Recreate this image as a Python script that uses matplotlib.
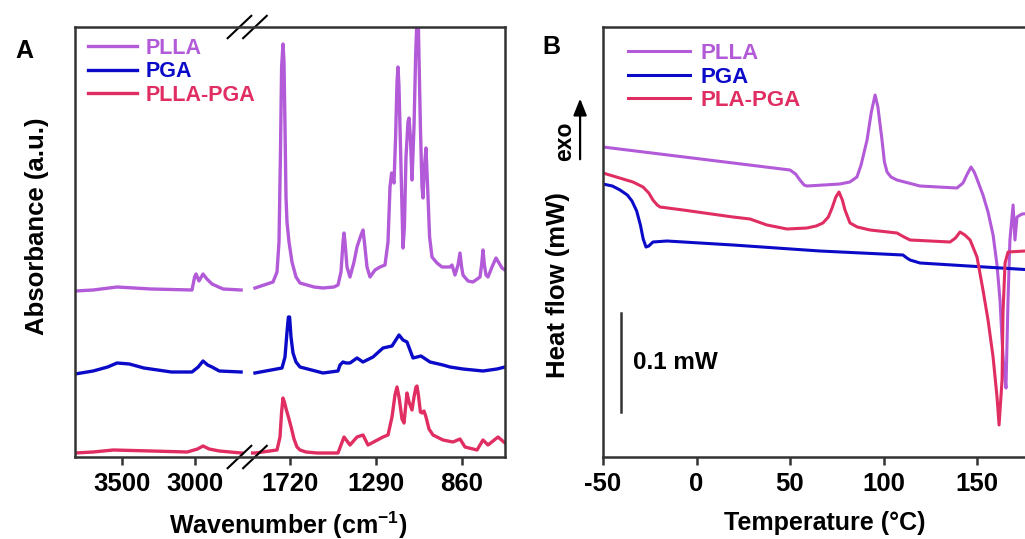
import numpy as np
import matplotlib
matplotlib.use("Agg")
import matplotlib.pyplot as plt

plt.rcParams["font.family"] = ["Liberation Sans", "DejaVu Sans"]
plt.rcParams["font.weight"] = "bold"
plt.rcParams["axes.labelweight"] = "bold"
plt.rcParams["axes.unicode_minus"] = False
plt.rcParams["mathtext.fontset"] = "custom"
plt.rcParams["mathtext.bf"] = "Liberation Sans:bold"
plt.rcParams["mathtext.rm"] = "Liberation Sans:bold"

PURPLE = "#b25ad8"
BLUE = "#0a0ac8"
RED = "#e02d62"

# ---------------- Panel A: FTIR (absorbance, arbitrary offset units) ----------------
PLLA_IR_WN = [3825, 3700, 3535, 3300, 3018, 3000, 2990, 2970, 2942, 2915, 2880, 2804, 2673,
              np.nan,
              1895, 1805, 1785, 1775, 1768, 1762, 1755, 1750, 1745, 1740, 1735, 1725, 1710,
              1690, 1670, 1600, 1555, 1500, 1480, 1465, 1455, 1450, 1445, 1435, 1420, 1400,
              1385, 1365, 1355, 1348, 1335, 1320, 1295, 1270, 1245, 1230, 1220, 1212, 1205,
              1200, 1192, 1185, 1180, 1175, 1165, 1155, 1148, 1140, 1130, 1125, 1118, 1110,
              1100, 1092, 1085, 1078, 1068, 1060, 1055, 1048, 1040, 1032, 1022, 1010, 985,
              960, 920, 910, 895, 880, 870, 862, 855, 830, 805, 770, 762, 755, 748, 740,
              730, 710, 690, 675, 660, 645]
PLLA_IR_ABS = [166, 167, 170, 168, 167, 180, 183, 176, 183, 178, 173, 168, 167,
               np.nan,
               169, 175, 185, 215, 300, 390, 413, 395, 330, 260, 235, 215, 195,
               180, 174, 170, 169, 170, 172, 185, 215, 224, 215, 190, 180, 195,
               210, 222, 227, 215, 190, 180, 187, 190, 192, 215, 270, 284, 278,
               274, 320, 375, 390, 370, 290, 209, 230, 300, 335, 339, 320, 277,
               330, 400, 440, 430, 330, 270, 259, 290, 309, 270, 220, 200, 194,
               190, 190, 192, 182, 192, 204, 190, 182, 176, 175, 180, 192, 207, 192, 182,
               180, 190, 199, 194, 189, 187]

PGA_IR_WN = [3825, 3700, 3600, 3535, 3450, 3350, 3160, 3018, 2975, 2942, 2910, 2880, 2830,
             2673,
             np.nan,
             1895, 1760, 1745, 1735, 1728, 1722, 1715, 1705, 1690, 1670, 1555, 1480,
             1470, 1455, 1440, 1420, 1385, 1355, 1305, 1255, 1210, 1175, 1155, 1135,
             1105, 1065, 1020, 955, 920, 855, 755, 685, 645]
PGA_IR_ABS = [83, 86, 90, 94, 93, 89, 85, 85, 90, 96, 92, 90, 86,
              85,
              np.nan,
              84, 89, 100, 125, 140, 140, 120, 104, 95, 90, 84, 86,
              92, 95, 94, 94, 99, 95, 100, 109, 111, 122, 117, 115,
              99, 101, 95, 92, 90, 88, 86, 88, 90]

BLEND_IR_WN = [3825, 3700, 3560, 3300, 3050, 2980, 2942, 2900, 2830, 2673, 2620,
               np.nan,
               1930, 1895, 1785, 1770, 1762, 1755, 1748, 1738, 1725, 1712, 1700, 1685,
               1670, 1640, 1585, 1480, 1465, 1450, 1420, 1385, 1355, 1330, 1255, 1230,
               1210, 1195, 1185, 1175, 1160, 1150, 1142, 1135, 1125, 1110, 1100, 1090,
               1085, 1078, 1068, 1060, 1050, 1040, 1025, 1005, 955, 905, 870, 845, 785,
               755, 730, 680, 645]
BLEND_IR_ABS = [4, 5, 7, 6, 5, 8, 11, 8, 6, 4, 4,
                np.nan,
                4, 4, 7, 20, 45, 59, 55, 47, 38, 28, 18, 10,
                7, 5, 4, 4, 12, 20, 12, 20, 22, 12, 20, 22,
                40, 62, 70, 60, 38, 34, 50, 64, 55, 47, 60, 70,
                71, 62, 45, 44, 46, 40, 28, 22, 17, 15, 18, 10, 7,
                17, 12, 20, 14]

IR_TICKS = [3500, 3000, 1720, 1290, 860]

# ---------------- Panel B: DSC (heat flow, units of 0.001 mW, offset) ----------------
PLLA_T = [-50, 50, 53, 55.3, 57.5, 59.1, 68, 76.7, 82, 85.8, 88, 91.2, 93.5, 95.5, 97,
          99.2, 100.5, 101.9, 104, 107.2, 119.5, 139.3, 142.5, 144.8, 146.8, 148.5,
          150, 153.2, 155.9, 158.6, 160.7, 162.3, 163.4, 164.4, 165.5, 166.6, 167.6,
          169.3, 170.3, 171.4, 174.1, 180]
PLLA_HF = [310, 287, 283, 277, 272, 271, 272, 273, 275, 280, 292, 317, 345, 362, 350,
           317, 295, 285, 280, 277, 271, 269, 274, 283, 290, 285,
           278, 262, 245, 222, 192, 157, 117, 87, 69, 157, 217,
           252, 217, 240, 243, 244]

PGA_T = [-50, -45, -40.9, -37, -34.5, -32, -30, -28.5, -27, -25.5, -23.3, -15.8, 19.5,
         66, 110.4, 112.5, 114.2, 119.5, 180]
PGA_HF = [273, 271, 267, 262, 256, 246, 232, 218, 210, 211, 215, 216, 212,
          206, 202, 199, 197, 194, 187]

BLEND_T = [-50, -34, -28.6, -25.5, -23.3, -21, -19.5, -7.2, 19.5, 28.6, 37.7, 48.4, 59.1,
           64, 67.6, 70.5, 72.5, 74.5, 76.2, 78, 79.4, 82.1, 86, 92.8, 107.2, 111, 114.2,
           135.6, 138.5, 140.9, 143.5, 146.3, 150, 153.2, 155.9, 158.6, 160.7, 161.8,
           163.4, 163.9, 165, 166.6, 175.7, 180]
BLEND_HF = [284, 275, 270, 264, 257, 252, 250, 247, 240, 238, 232, 228, 229,
            231, 234, 240, 249, 260, 265, 257, 247, 234, 230, 227, 224, 220, 217,
            215, 219, 225, 222, 217, 200, 167, 137, 100, 60, 32,
            77, 144, 194, 205, 206, 206]

DSC_TICKS = [-50, 0, 50, 100, 150]
SCALE_BAR_T = -40.4
SCALE_BAR_Y = (45, 144)  # 0.1 mW


# broken wavenumber axis: piecewise-linear scale
_WN_PTS = [-10000, 645, 1905, 2680, 3825, 20000]
_POS_PTS = [-2129, 0, 252, 264, 430, 2775.4]


def wn_forward(w):
    return np.interp(w, _WN_PTS, _POS_PTS)


def wn_inverse(p):
    return np.interp(p, _POS_PTS, _WN_PTS)


def style_axes(ax):
    for sp in ax.spines.values():
        sp.set_linewidth(1.8)
        sp.set_color("#333333")
    ax.tick_params(axis="x", direction="out", length=6, width=1.8,
                   color="#333333", labelsize=18.5, pad=5)
    ax.tick_params(axis="y", left=False, labelleft=False)


fig = plt.figure(figsize=(10.25, 5.39), dpi=100)

# ---- Panel A
axA = fig.add_axes([75 / 1025, 1 - 457 / 539, 430 / 1025, 430 / 539])
axA.set_xscale("function", functions=(wn_forward, wn_inverse))
axA.plot(PLLA_IR_WN, PLLA_IR_ABS, color=PURPLE, lw=2.4, label="PLLA")
axA.plot(PGA_IR_WN, PGA_IR_ABS, color=BLUE, lw=2.4, label="PGA")
axA.plot(BLEND_IR_WN, BLEND_IR_ABS, color=RED, lw=2.4, label="PLLA-PGA")
axA.set_xlim(3825, 645)
axA.set_ylim(0, 430)
axA.set_xticks(IR_TICKS)
axA.set_xticklabels([str(t) for t in IR_TICKS])
axA.xaxis.set_minor_locator(matplotlib.ticker.NullLocator())
style_axes(axA)
axA.set_xlabel("Wavenumber (cm$^{\\mathbf{-1}}$)", fontsize=18)
axA.xaxis.set_label_coords(0.495, -0.122)
axA.set_ylabel("Absorbance (a.u.)", fontsize=18.5)
axA.yaxis.set_label_coords(-0.06, 0.537)

# break marks
for dx in (0.0, 0.036):
    for yb in (0.0, 1.0):
        axA.plot([0.355 + dx, 0.41 + dx], [yb - 0.026, yb + 0.026],
                 transform=axA.transAxes, color="black", lw=1.5, clip_on=False)

legA = axA.legend(loc="upper left", bbox_to_anchor=(0.03, 0.975), frameon=False,
                  fontsize=15.5, handlelength=2.3, handletextpad=0.4,
                  labelspacing=0.12, borderaxespad=0, borderpad=0)
for txt, line in zip(legA.get_texts(), legA.get_lines()):
    txt.set_color(line.get_color())

# ---- Panel B
axB = fig.add_axes([603 / 1025, 1 - 457 / 539, 467.5 / 1025, 430 / 539])
axB.plot(PLLA_T, PLLA_HF, color=PURPLE, lw=2.2, label="PLLA")
axB.plot(PGA_T, PGA_HF, color=BLUE, lw=2.2, label="PGA")
axB.plot(BLEND_T, BLEND_HF, color=RED, lw=2.2, label="PLA-PGA")
axB.set_xlim(-50, 200)
axB.set_ylim(0, 430)
axB.set_xticks(DSC_TICKS)
style_axes(axB)
axB.set_xlabel("Temperature (°C)", fontsize=18)
axB.xaxis.set_label_coords(0.475, -0.125)
axB.set_ylabel("Heat flow (mW)", fontsize=18.5)
axB.yaxis.set_label_coords(-0.07, 0.4)

axB.plot([SCALE_BAR_T, SCALE_BAR_T], SCALE_BAR_Y, color="#333333", lw=1.8)
axB.text(-34, sum(SCALE_BAR_Y) / 2, "0.1 mW", fontsize=17.5, va="center", ha="left")

axB.annotate("", xy=(-0.049, 0.84), xytext=(-0.049, 0.686), xycoords="axes fraction",
             arrowprops=dict(arrowstyle="-|>,head_width=0.4,head_length=1.0",
                             color="black", lw=1.6), annotation_clip=False)
axB.text(-0.083, 0.733, "exo", transform=axB.transAxes, rotation=90,
         fontsize=16.5, ha="center", va="center")

legB = axB.legend(loc="upper left", bbox_to_anchor=(0.0535, 0.963), frameon=False,
                  fontsize=16, handlelength=2.8, handletextpad=0.45,
                  labelspacing=0.12, borderaxespad=0, borderpad=0)
for txt, line in zip(legB.get_texts(), legB.get_lines()):
    txt.set_color(line.get_color())

fig.text(24 / 1025, 1 - 51 / 539, "A", fontsize=18, ha="center", va="center")
fig.text(551 / 1025, 1 - 47 / 539, "B", fontsize=18, ha="center", va="center")

fig.savefig("out.png", dpi=100, facecolor="white")
